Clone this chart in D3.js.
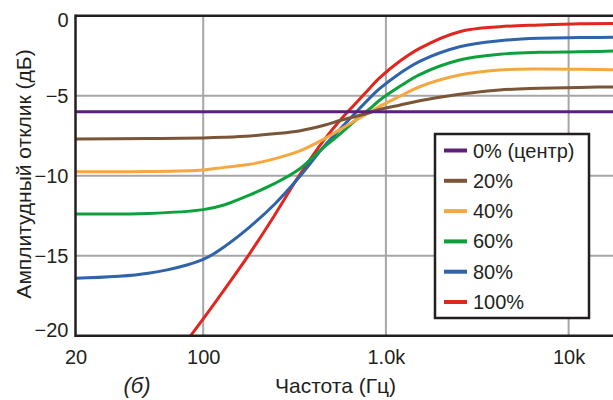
<!DOCTYPE html>
<html>
<head>
<meta charset="utf-8">
<script src="https://cdn.jsdelivr.net/npm/d3@7"></script>
<style>
  html, body { margin: 0; padding: 0; background: #ffffff; }
  svg { display: block; }
  text { font-family: "Liberation Sans", Arial, Helvetica, sans-serif; fill: #231f20; }
</style>
</head>
<body>
<svg id="chart" width="613" height="400"></svg>
<script>
// ---------- data ----------
const freqs = [20, 50, 100, 130, 180, 245, 335, 460, 560, 680, 820, 920, 1200, 1530, 2530, 4190, 6940, 11500, 20000];
const seriesNames = ["0% (центр)", "20%", "40%", "60%", "80%", "100%"];
const p0   = [-6, -6, -6, -6, -6, -6, -6, -6, -6, -6, -6, -6, -6, -6, -6, -6, -6, -6, -6];
const p20  = [-7.70, -7.68, -7.64, -7.60, -7.52, -7.38, -7.20, -6.85, -6.55, -6.30, -6.05, -5.86, -5.58, -5.32, -4.91, -4.64, -4.54, -4.48, -4.44];
const p40  = [-9.75, -9.74, -9.64, -9.48, -9.29, -8.95, -8.47, -7.70, -7.12, -6.55, -6.02, -5.68, -5.02, -4.44, -3.71, -3.39, -3.33, -3.35, -3.39];
const p60  = [-12.39, -12.36, -12.12, -11.83, -11.20, -10.50, -9.60, -8.20, -7.40, -6.55, -5.80, -5.30, -4.40, -3.68, -2.77, -2.41, -2.29, -2.25, -2.20];
const p80  = [-16.41, -16.10, -15.23, -14.45, -13.20, -11.80, -10.10, -8.15, -7.10, -6.08, -5.12, -4.58, -3.58, -2.85, -1.94, -1.56, -1.41, -1.37, -1.35];
const p100 = [null, -23.5, -18.95, -17.15, -14.85, -12.50, -10.00, -7.75, -6.55, -5.50, -4.50, -3.90, -2.82, -2.04, -1.00, -0.69, -0.58, -0.50, -0.48];
const seriesValues = [p0, p20, p40, p60, p80, p100];
const seriesColors = ["#5c1f7a", "#7b5538", "#f5a742", "#0ca13c", "#2f64aa", "#e0261f"];

const xTickValues = [20, 100, 1000, 10000];
const xTickLabels = ["20", "100", "1.0k", "10k"];
const xGridValues = [100, 1000, 10000];
const yTickValues = [0, -5, -10, -15, -20];
const yTickLabels = ["0", "\u22125", "\u221210", "\u221215", "\u221220"];
const yGridValues = [-5, -10, -15];

// ---------- layout ----------
const W = 613, H = 400;
const plotL = 75.5, plotT = 15.7, plotB = 335.7, decade = 182.7;
const x = d3.scaleLog().domain([20, 20000]).range([plotL, plotL + 3 * decade]);
const y = d3.scaleLinear().domain([-20, 0]).range([plotB, plotT]);

const svg = d3.select("#chart");
const ink = "#231f20";
const gridColor = "#a6a6a6";

svg.append("defs").append("clipPath").attr("id", "plotclip")
  .append("rect").attr("x", plotL).attr("y", plotT).attr("width", W - plotL).attr("height", plotB - plotT);

// gridlines
const grid = svg.append("g");
grid.selectAll("line.vg").data(xGridValues).join("line")
  .attr("x1", d => x(d)).attr("x2", d => x(d))
  .attr("y1", plotT).attr("y2", plotB)
  .attr("stroke", gridColor).attr("stroke-width", 2);
grid.selectAll("line.hg").data(yGridValues).join("line")
  .attr("x1", plotL).attr("x2", W)
  .attr("y1", d => y(d)).attr("y2", d => y(d))
  .attr("stroke", gridColor).attr("stroke-width", 2);

// lines
const line = d3.line()
  .defined(d => d.v !== null)
  .x(d => x(d.f)).y(d => y(d.v))
  .curve(d3.curveCatmullRom.alpha(0.5));
const series = seriesNames.map((name, i) => ({
  name, color: seriesColors[i],
  pts: freqs.map((f, j) => ({ f, v: seriesValues[i][j] }))
}));
const linesG = svg.append("g").attr("clip-path", "url(#plotclip)");
linesG.selectAll("path").data(series.slice().reverse()).join("path")
  .attr("d", d => line(d.pts))
  .attr("fill", "none")
  .attr("stroke", d => d.color)
  .attr("stroke-width", 3)
  .attr("stroke-linejoin", "round");

// frame (left, bottom, top)
const frame = svg.append("g").attr("stroke", ink).attr("stroke-width", 2.5);
frame.append("line").attr("x1", plotL).attr("x2", plotL).attr("y1", plotT - 1.25).attr("y2", plotB + 1.25);
frame.append("line").attr("x1", plotL).attr("x2", W).attr("y1", plotB).attr("y2", plotB);
frame.append("line").attr("x1", plotL).attr("x2", W).attr("y1", plotT).attr("y2", plotT);

// axes labels via d3 axes
const yAxis = d3.axisLeft(y).tickValues(yTickValues)
  .tickFormat((d, i) => yTickLabels[i]).tickSize(0).tickPadding(7);
const yG = svg.append("g").attr("transform", `translate(${plotL},0)`).call(yAxis);
yG.select(".domain").remove();
yG.selectAll("text").attr("font-size", 20).style("font-family", '"Liberation Sans", Arial, sans-serif').attr("fill", ink)
  .attr("dy", d => d === 0 ? "0.52em" : (d === -20 ? "0.02em" : "0.34em"));

const xAxis = d3.axisBottom(x).tickValues(xTickValues)
  .tickFormat((d, i) => xTickLabels[i]).tickSize(0).tickPadding(14);
const xG = svg.append("g").attr("transform", `translate(0,${plotB})`).call(xAxis);
xG.select(".domain").remove();
xG.selectAll("text").attr("font-size", 20).style("font-family", '"Liberation Sans", Arial, sans-serif').attr("fill", ink);

// titles
svg.append("text").attr("x", 335.5).attr("y", 393.3).attr("text-anchor", "middle")
  .attr("font-size", 21).text("Частота (Гц)");
svg.append("text").attr("transform", "translate(31,174) rotate(-90)").attr("text-anchor", "middle")
  .attr("font-size", 21).text("Амплитудный отклик (дБ)");
svg.append("text").attr("x", 137).attr("y", 393).attr("text-anchor", "middle")
  .attr("font-size", 22).attr("font-style", "italic").text("(б)");

// legend
const lg = svg.append("g");
lg.append("rect").attr("x", 435).attr("y", 134).attr("width", 154).attr("height", 184)
  .attr("fill", "#ffffff").attr("stroke", ink).attr("stroke-width", 2.5);
const items = lg.selectAll("g.item").data(series).join("g")
  .attr("transform", (d, i) => `translate(0,${150.5 + i * 30.3})`);
items.append("line").attr("x1", 444).attr("x2", 467).attr("y1", 0).attr("y2", 0)
  .attr("stroke", d => d.color).attr("stroke-width", 4);
items.append("text").attr("x", 473).attr("y", 0).attr("dy", "0.35em")
  .attr("font-size", 20).text(d => d.name);
</script>
</body>
</html>
